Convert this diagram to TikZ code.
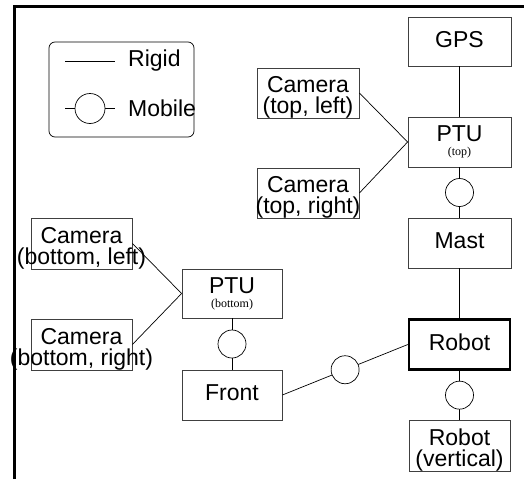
\documentclass[tikz,border=0pt]{standalone}
\usepackage{fontspec}
\setmainfont{Liberation Sans}
\newfontfamily\smallserif{Liberation Serif}
\newcommand{\subtag}[1]{{\smallserif\fontsize{12}{12}\selectfont #1}}
\begin{document}
\begin{tikzpicture}[x=1pt,y=-1pt,
	box/.style={draw=black!75, line width=0.8pt, inner sep=0pt},
	txt/.style={align=center, inner sep=0pt, font=\fontsize{23}{21}\selectfont},
	joint/.style={circle, draw, line width=0.7pt, fill=white, minimum size=28pt, inner sep=0pt},
	link/.style={line width=0.7pt}]
	\useasboundingbox (0,0) rectangle (524,479);
	% frame
	\draw [line width=3pt] (14.5,479) -- (14.5,6) -- (524,6);
	% legend
	\node [draw, rounded corners=6pt, line width=0.7pt, minimum width=145pt, minimum height=95pt] (legend) at (121.5,89.5) {};
	\coordinate (rigA) at (65,61);
	\coordinate (rigB) at (115,61);
	\draw [link] (rigA) -- (rigB);
	\node [txt, anchor=west] (rigid) at (128,61) {Rigid};
	\coordinate (mobA) at (65,108.5);
	\coordinate (mobB) at (115,108.5);
	\draw [link] (mobA) -- node [joint, minimum size=30pt] (mobJ) {} (mobB);
	\node [txt, anchor=west] (mobile) at (128,108) {Mobile};
	% boxes
	\foreach \name/\x/\y/\w/\h/\dy/\text in {
		gps/459.5/41.5/103/49/-2/{GPS},
		ptut/459.5/142/103/50/0/{PTU\\[-7pt]\subtag{(top)}},
		mast/459.5/243/103/50/-2/{Mast},
		robotv/459.5/445.5/101/51/5/{Robot\\(vertical)},
		camtl/308/93/102/50/4.5/{Camera\\(top, left)},
		camtr/308/193/102/50/4.5/{Camera\\(top, right)},
		ptub/232/293.5/100/49/0/{PTU\\[-7pt]\subtag{(bottom)}},
		front/232/395/100/50/-2/{Front},
		cambl/81.5/243.5/101/51/4.5/{Camera\\(bottom, left)},
		cambr/81.5/344.5/101/51/4.5/{Camera\\(bottom, right)}}
	{
		\node [box, minimum width=\w pt, minimum height=\h pt] (\name) at (\x,\y) {};
		\node [txt] (\name-t) at (\x,{\y+\dy}) {\text};
	}
	\node [box, draw=black, line width=2.4pt, minimum width=101pt, minimum height=50pt] (robot) at (459.5,344.5) {};
	\node [txt] (robot-t) at (459.5,342.5) {Robot};
	% rigid links
	\draw [link] (gps) -- (ptut);
	\draw [link] (mast) -- (robot);
	\draw [link] (camtl.east) -- (ptut.west);
	\draw [link] (camtr.east) -- (ptut.west);
	\draw [link] (cambl.east) -- (ptub.west);
	\draw [link] (cambr.east) -- (ptub.west);
	% mobile links
	\draw [link] (ptut) -- node [joint] (j1) {} (mast);
	\draw [link] (robot) -- node [joint] (j2) {} (robotv);
	\draw [link] (ptub) -- node [joint] (j3) {} (front);
	\draw [link] (front.east) -- node [joint] (j4) {} (robot.west);
\end{tikzpicture}
\end{document}
